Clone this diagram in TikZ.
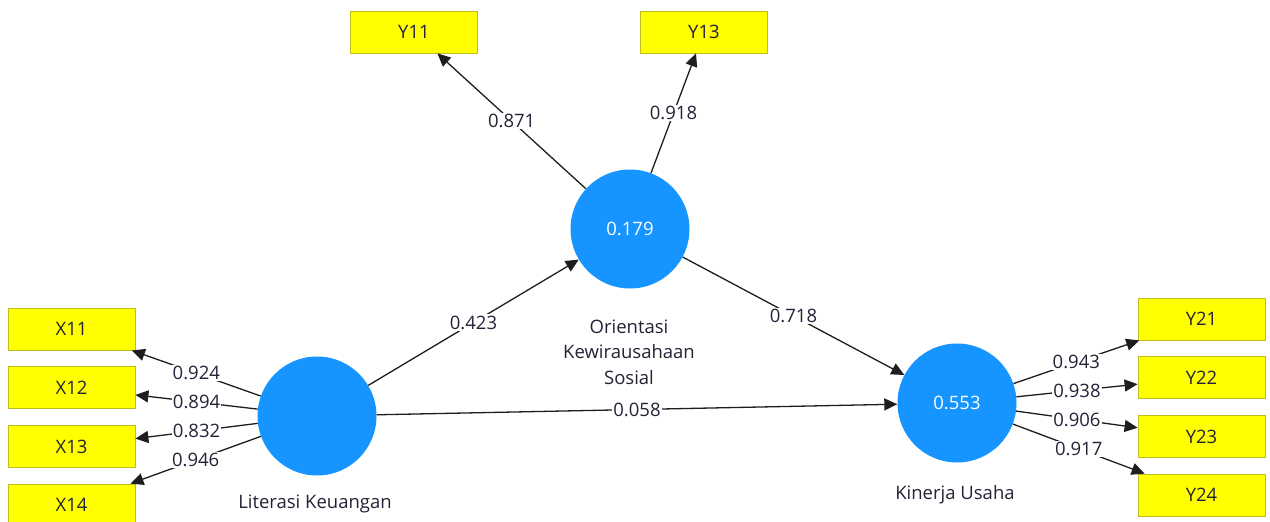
\documentclass[tikz,border=0pt]{standalone}
\usepackage{fontspec}
\setmainfont{Open Sans}
\usetikzlibrary{arrows.meta}
\definecolor{lvblue}{RGB}{22,148,255}
\definecolor{indyel}{RGB}{255,255,0}
\definecolor{indborder}{RGB}{190,190,30}
\definecolor{edgecol}{RGB}{30,30,30}
\definecolor{txtcol}{RGB}{35,35,55}
\begin{document}
\begin{tikzpicture}[x=1pt,y=-1pt,
  ind/.style={draw=indborder, fill=indyel, line width=0.8pt, minimum width=127pt, minimum height=42pt, inner sep=0pt, font=\fontsize{18.5}{21}\selectfont, text=txtcol},
  lv/.style={circle, fill=lvblue, minimum size=119pt, inner sep=0pt, text=white, font=\fontsize{18.5}{21}\selectfont},
  lvname/.style={font=\fontsize{18.5}{25.5}\selectfont, text=txtcol, align=center, inner sep=0pt},
  arr/.style={draw=edgecol, line width=1.3pt, -{Triangle[length=13pt,width=12pt]}},
  wt/.style={fill=white, inner sep=1.2pt, text=txtcol, font=\fontsize{18.5}{21}\selectfont}
]
\useasboundingbox (0,0) rectangle (1270,522);
\fill[white] (0,0) rectangle (1270,522);

% indicators
\node[ind] (y11) at (414,32) {Y11};
\node[ind] (y13) at (704,32) {Y13};
\node[ind] (x11) at (71.5,329) {X11};
\node[ind] (x12) at (71.5,387.5) {X12};
\node[ind] (x13) at (71.5,446.5) {X13};
\node[ind] (x14) at (71.5,505) {X14};
\node[ind] (y21) at (1201.5,319) {Y21};
\node[ind] (y22) at (1201.5,377.5) {Y22};
\node[ind] (y23) at (1201.5,436.5) {Y23};
\node[ind] (y24) at (1201.5,495) {Y24};

% latent variables
\node[lv] (ok) at (630,229) {0.179};
\node[lv] (lk) at (317,416) {};
\node[lv] (ku) at (957,403) {0.553};

\node[lvname] (okname) at (629,352) {Orientasi\\Kewirausahaan\\Sosial};
\node[lvname] (lkname) at (315,504) {Literasi Keuangan};
\node[lvname] (kuname) at (955,495) {Kinerja Usaha};

% outer loadings
\draw[arr] (ok) -- node[wt]{0.871} (y11);
\draw[arr] (ok) -- node[wt]{0.918} (y13);
\draw[arr] (lk) -- node[wt]{0.924} (x11);
\draw[arr] (lk) -- node[wt]{0.894} (x12);
\draw[arr] (lk) -- node[wt]{0.832} (x13);
\draw[arr] (lk) -- node[wt]{0.946} (x14);
\draw[arr] (ku) -- node[wt]{0.943} (y21);
\draw[arr] (ku) -- node[wt]{0.938} (y22);
\draw[arr] (ku) -- node[wt]{0.906} (y23);
\draw[arr] (ku) -- node[wt]{0.917} (y24);

% path coefficients
\draw[arr] (lk) -- node[wt]{0.423} (ok);
\draw[arr] (ok) -- node[wt]{0.718} (ku);
\draw[arr] (lk) -- node[wt]{0.058} (ku);
\end{tikzpicture}
\end{document}
